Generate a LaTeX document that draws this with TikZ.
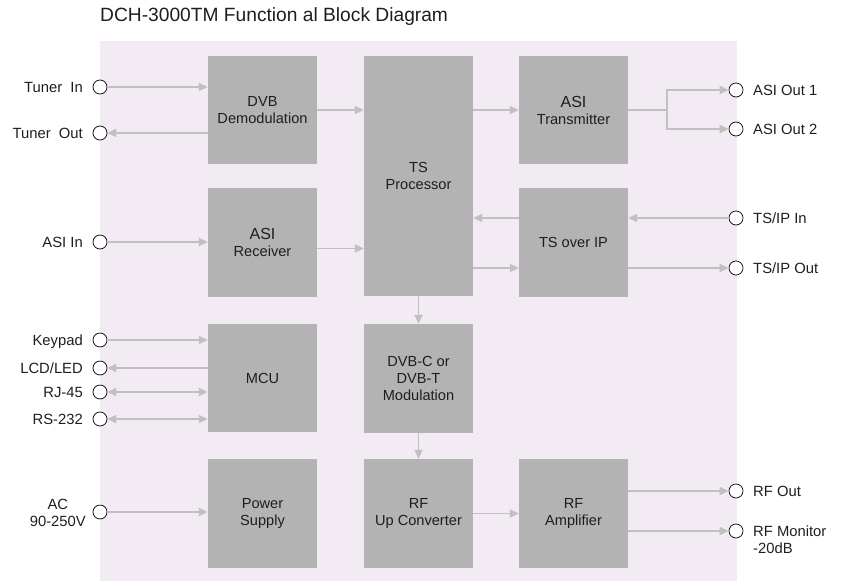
\documentclass[tikz,border=0pt]{standalone}
\usepackage{fontspec}
\setmainfont{Liberation Sans}
\usetikzlibrary{arrows.meta}
\definecolor{bgc}{HTML}{F2EBF3}
\definecolor{boxc}{HTML}{B3B3B3}
\definecolor{arrc}{HTML}{C0C0C0}
\definecolor{txtc}{HTML}{1E1E1E}
\begin{document}
\begin{tikzpicture}[x=1pt,y=-1pt,
  blk/.style={fill=boxc, draw=none, minimum width=109pt, minimum height=108pt, align=center,
    font=\fontsize{14.6}{17}\selectfont, text=txtc, inner sep=0pt},
  port/.style={circle, draw=black, fill=white, line width=0.7pt, minimum size=14pt, inner sep=0pt},
  link/.style={draw=arrc, line width=1.9pt},
  arr/.style={link, -{Triangle[length=9pt,width=8pt]}},
  arrb/.style={link, {Triangle[length=9pt,width=8pt]}-{Triangle[length=9pt,width=8pt]}},
  lbl/.style={font=\fontsize{14.8}{17}\selectfont, text=txtc, inner sep=0pt, text height=10.6pt, text depth=0pt},
  mlbl/.style={font=\fontsize{14.8}{17}\selectfont, text=txtc, inner sep=0pt}
]
\useasboundingbox (0,0) rectangle (842,583);
\fill[bgc] (100,41) rectangle (737,581);

\node[anchor=base west, font=\fontsize{19.2}{22}\selectfont, text=txtc, inner sep=0pt] (title) at (100,22) {DCH-3000TM Function al Block Diagram};

% blocks
\node[blk] (demod) at (262.5,110) {DVB\\Demodulation};
\node[blk, minimum height=240pt] (tsp) at (418.5,176) {TS\\Processor};
\node[blk] (asitx) at (573.5,110) {{\fontsize{16}{17}\selectfont ASI}\\Transmitter};
\node[blk, minimum height=109pt] (asirx) at (262.5,242.5) {{\fontsize{16}{17}\selectfont ASI}\\Receiver};
\node[blk, minimum height=109pt] (tsip) at (573.5,242.5) {TS over IP};
\node[blk] (mcu) at (262.5,378) {MCU};
\node[blk, minimum height=109pt] (mod) at (418.5,378.5) {DVB-C or\\DVB-T\\Modulation};
\node[blk, minimum height=109pt] (psu) at (262.5,513.5) {Power\\Supply};
\node[blk, minimum height=109pt] (upc) at (418.5,513.5) {RF\\Up Converter};
\node[blk, minimum height=109pt] (amp) at (573.5,513.5) {RF\\Amplifier};

% left ports
\node[port] (tin) at (100,87) {};
\node[port] (tout) at (100,133) {};
\node[port] (asiin) at (100,242) {};
\node[port] (kp) at (100,340) {};
\node[port] (lcd) at (100,368) {};
\node[port] (rj) at (100,392) {};
\node[port] (rs) at (100,419) {};
\node[port] (ac) at (100,512) {};

\node[lbl, anchor=east] (ltin) at (83,87) {Tuner\ \ In};
\node[lbl, anchor=east] (ltout) at (83,133) {Tuner\ \ Out};
\node[lbl, anchor=east] (lasiin) at (83,242) {ASI In};
\node[lbl, anchor=east] (lkp) at (83,340) {Keypad};
\node[lbl, anchor=east] (llcd) at (83,368) {LCD/LED};
\node[lbl, anchor=east] (lrj) at (83,392) {RJ-45};
\node[lbl, anchor=east] (lrs) at (83,419) {RS-232};
\node[mlbl, anchor=east, align=center] (lac) at (86,513) {AC\\90-250V};

% right ports
\node[port] (aso1) at (736,90) {};
\node[port] (aso2) at (736,129) {};
\node[port] (tsin) at (736,218) {};
\node[port] (tsout) at (736,268) {};
\node[port] (rfout) at (736,491) {};
\node[port] (rfmon) at (736,531) {};

\node[lbl, anchor=west] (laso1) at (753,90) {ASI Out 1};
\node[lbl, anchor=west] (laso2) at (753,129) {ASI Out 2};
\node[lbl, anchor=west] (ltsin) at (753,218) {TS/IP In};
\node[lbl, anchor=west] (ltsout) at (753,268) {TS/IP Out};
\node[lbl, anchor=west] (lrfout) at (753,491) {RF Out};
\node[mlbl, anchor=west, align=left] (lrfmon) at (753,539.5) {RF Monitor\\-20dB};

% connectors
\draw[arr] (tin) -- (tin -| demod.west);
\draw[arr] (demod.west |- tout) -- (tout);
\draw[arr] (asiin) -- (asiin -| asirx.west);
\draw[arr] (demod) -- (demod -| tsp.west);
\path ([yshift=-6pt]asirx.east) coordinate (rxo);
\draw[arr] (rxo) -- (rxo -| tsp.west);
\draw[arr] (tsp.east |- asitx) -- (asitx);
\coordinate (fork) at (667,110);
\draw[link] (asitx) -- (fork);
\draw[arr] (fork) |- (aso1);
\draw[arr] (fork) |- (aso2);
\draw[arr] (tsin) -- (tsin -| tsip.east);
\draw[arr] (tsip.west |- tsin) -- (tsin -| tsp.east);
\draw[arr] (tsp.east |- tsout) -- (tsout -| tsip.west);
\draw[arr] (tsip.east |- tsout) -- (tsout);
\draw[arr] (tsp) -- (mod);
\draw[arr] (mod) -- (upc);
\draw[arr] (upc) -- (amp);
\draw[arr] (amp.east |- rfout) -- (rfout);
\draw[arr] (amp.east |- rfmon) -- (rfmon);
\draw[arr] (kp) -- (kp -| mcu.west);
\draw[arr] (mcu.west |- lcd) -- (lcd);
\draw[arrb] (rj) -- (rj -| mcu.west);
\draw[arrb] (rs) -- (rs -| mcu.west);
\draw[arr] (ac) -- (ac -| psu.west);
\end{tikzpicture}
\end{document}
